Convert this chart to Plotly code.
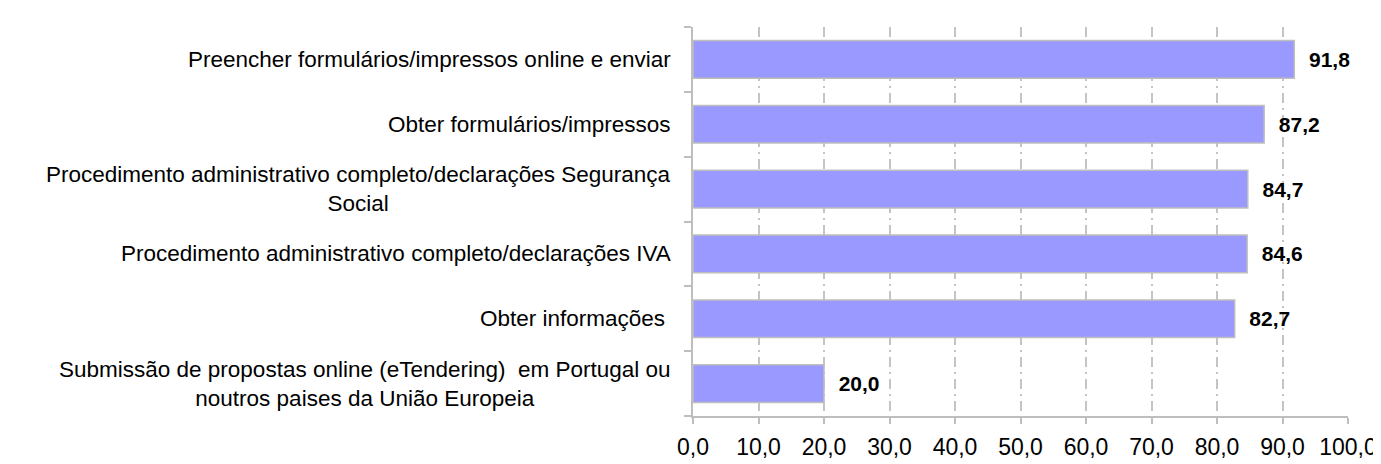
import plotly.graph_objects as go

categories = [
    "Submissão de propostas online (eTendering)  em Portugal ou<br>noutros paises da União Europeia",
    "Obter informações ",
    "Procedimento administrativo completo/declarações IVA",
    "Procedimento administrativo completo/declarações Segurança<br>Social",
    "Obter formulários/impressos",
    "Preencher formulários/impressos online e enviar",
]
values = [20.0, 82.7, 84.6, 84.7, 87.2, 91.8]
x_ticks = [0, 10, 20, 30, 40, 50, 60, 70, 80, 90, 100]

cat_ids = list(range(len(categories)))
FONT = "Liberation Sans, Arial"

fig = go.Figure()
fig.add_trace(go.Bar(
    y=cat_ids,
    x=values,
    orientation="h",
    width=0.58,
    marker=dict(color="#9999FF", line=dict(color="#BEBEBE", width=1.5)),
    text=["\u00a0\u00a0<b>" + f"{v:.1f}".replace(".", ",") + "</b>" for v in values],
    textposition="outside",
    textfont=dict(family=FONT, size=21, color="black"),
    cliponaxis=False,
    hoverinfo="skip",
))

for i, c in zip(cat_ids, categories):
    fig.add_annotation(
        x=0, xref="paper", xanchor="right", xshift=-20,
        y=i, yref="y", yanchor="middle",
        text=c, showarrow=False, align="center",
        font=dict(family=FONT, size=22.5, color="black"),
    )

fig.update_layout(
    width=1381, height=464,
    margin=dict(l=685, r=31, t=19, b=39),
    plot_bgcolor="white", paper_bgcolor="white",
    separators=",.",
    showlegend=False,
    font=dict(family=FONT, size=16, color="black"),
)
fig.update_xaxes(
    range=[0, 100], tickvals=x_ticks, tickformat=".1f",
    showgrid=True, gridcolor="#C4C4C4", griddash="10px,5px,2px,5px", gridwidth=1.5,
    showline=True, linecolor="#BEBEBE", linewidth=1.5,
    ticks="outside", ticklen=6, tickcolor="#BEBEBE", tickwidth=1.5,
    tickfont=dict(family=FONT, size=23, color="black"), zeroline=False,
    ticklabelstandoff=4,
)
fig.update_yaxes(
    range=[-0.5, 5.5], tickvals=[i - 0.5 for i in cat_ids] + [5.5], ticktext=[""] * 7,
    showgrid=False, showline=True, linecolor="#BEBEBE", linewidth=1.5,
    ticks="outside", ticklen=7, tickcolor="#BEBEBE", tickwidth=1.5,
    zeroline=False,
)

fig.write_html("out.html")
